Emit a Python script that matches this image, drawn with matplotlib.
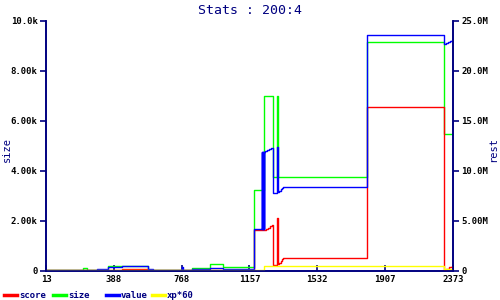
import matplotlib
matplotlib.use("Agg")
import matplotlib.pyplot as plt
from matplotlib.lines import Line2D

# x is sample index (0..600), labelled with the original tick values
tick_pos = [0, 100, 200, 300, 400, 500, 600]
tick_labels = ["13", "388", "768", "1157", "1532", "1907", "2373"]

# size (left axis, in k)
size_x = [0, 54.5, 60.4, 91.8, 150.8, 215.2, 241.7, 261.4, 306.6, 321.3, 335, 341, 342, 472.7, 586.7, 600]
size_k = [0.03, 0.11, 0.03, 0.21, 0.03, 0.11, 0.27, 0.15, 3.24, 6.99, 3.77, 6.99, 3.77, 9.14, 5.47, 5.47]

# value (right axis, in M)
value_x = [0, 74.7, 91.8, 111.6, 150.8, 158.2, 200.9, 201.9, 215.2, 241.7, 261.4, 306.6,
           318.4, 318.7, 319.0, 319.3, 319.6, 319.9, 320.2, 320.5, 320.8, 321.1, 321.3,
           323, 326, 329, 332,
           335, 337, 341, 342, 344, 346, 348, 349.3, 472.7, 586.7, 589, 592, 595, 598, 600]
value_m = [0.05, 0.2, 0.37, 0.47, 0.2, 0.05, 0.43, 0.05, 0.17, 0.27, 0.17, 4.17,
           11.9, 4.2, 11.9, 4.2, 11.9, 4.2, 11.9, 4.2, 11.9, 4.2, 11.9,
           12.0, 12.1, 12.2, 12.3,
           7.76, 7.8, 12.4, 7.9, 8.0, 8.15, 8.25, 8.36, 23.54, 22.64, 22.75, 22.85, 22.95, 23.1, 23.17]

# score (right axis, in M)
score_x = [0, 111.6, 150.8, 306.6, 321.3, 324, 327, 330, 333, 335, 341, 342,
           344, 346, 348, 349.3, 472.7, 586.7, 590, 594, 598, 600]
score_m = [0.05, 0.2, 0.05, 4.1, 4.1, 4.2, 4.3, 4.45, 4.55, 0.6, 5.26, 0.65,
           0.8, 1.0, 1.15, 1.27, 16.35, 0.1, 0.2, 0.35, 0.5, 0.53]

# xp*60 (right axis, in M)
xp_x = [0, 321.3, 586.7, 600]
xp_m = [0.1, 0.45, 0.17, 0.17]

navy = "#000080"
mono = "DejaVu Sans Mono"

fig = plt.figure(figsize=(5, 3), dpi=100)
ax = fig.add_axes([0.092, 0.097, 0.814, 0.834])
ax2 = ax.twinx()

ax.plot(size_x, [v * 1000 for v in size_k], color="#00ff00", lw=1, drawstyle="steps-post")
ax2.plot(score_x, [v * 1e6 for v in score_m], color="#ff0000", lw=1, drawstyle="steps-post")
ax2.plot(value_x, [v * 1e6 for v in value_m], color="#0000ff", lw=1, drawstyle="steps-post")
ax2.plot(xp_x, [v * 1e6 for v in xp_m], color="#ffff00", lw=1, drawstyle="steps-post")

ax.set_xlim(0, 600)
ax.set_ylim(0, 10000)
ax2.set_ylim(0, 25e6)

ax.set_xticks(tick_pos)
ax.set_xticklabels(tick_labels)
ax.set_yticks([0, 2000, 4000, 6000, 8000, 10000])
ax.set_yticklabels(["0", "2.00k", "4.00k", "6.00k", "8.00k", "10.0k"])
ax2.set_yticks([0, 5e6, 10e6, 15e6, 20e6, 25e6])
ax2.set_yticklabels(["0", "5.00M", "10.0M", "15.0M", "20.0M", "25.0M"])

for a in (ax, ax2):
    a.spines["top"].set_visible(False)
    for s in ("left", "right", "bottom"):
        a.spines[s].set_color(navy)
        a.spines[s].set_linewidth(1.2)
    for lab in a.get_xticklabels() + a.get_yticklabels():
        lab.set_fontfamily(mono)
        lab.set_fontsize(6.5)
        lab.set_fontweight("bold")

ax.tick_params(axis="y", direction="out", length=4, color=navy, width=1.2, pad=2)
ax.tick_params(axis="x", direction="in", length=4, color=navy, width=1.2, pad=3)
ax2.tick_params(axis="y", direction="out", length=4, color=navy, width=1.2, pad=2)

# axis titles placed in figure coords so they stay inside the canvas
fig.text(7 / 500, 0.5, "size", rotation=90, ha="center", va="center", family=mono,
         fontsize=7.5, color=navy)
fig.text(493 / 500, 0.5, "rest", rotation=90, ha="center", va="center", family=mono,
         fontsize=7.5, color=navy)

fig.text(0.5, 0.965, "Stats : 200:4", ha="center", va="center", family=mono,
         fontsize=9.5, color=navy)

# legend along the bottom
legend_items = [("score", "#ff0000", 4), ("size", "#00ff00", 53), ("value", "#0000ff", 106), ("xp*60", "#ffff00", 152)]
ly = 1 - 295 / 300
for name, col, px in legend_items:
    fig.add_artist(Line2D([px / 500, (px + 13) / 500], [ly, ly], transform=fig.transFigure,
                          color=col, lw=2.5))
    fig.text((px + 15) / 500, ly, name, ha="left", va="center", family=mono,
             fontsize=6.5, fontweight="bold", color=navy)

fig.savefig("out.png", dpi=100)
